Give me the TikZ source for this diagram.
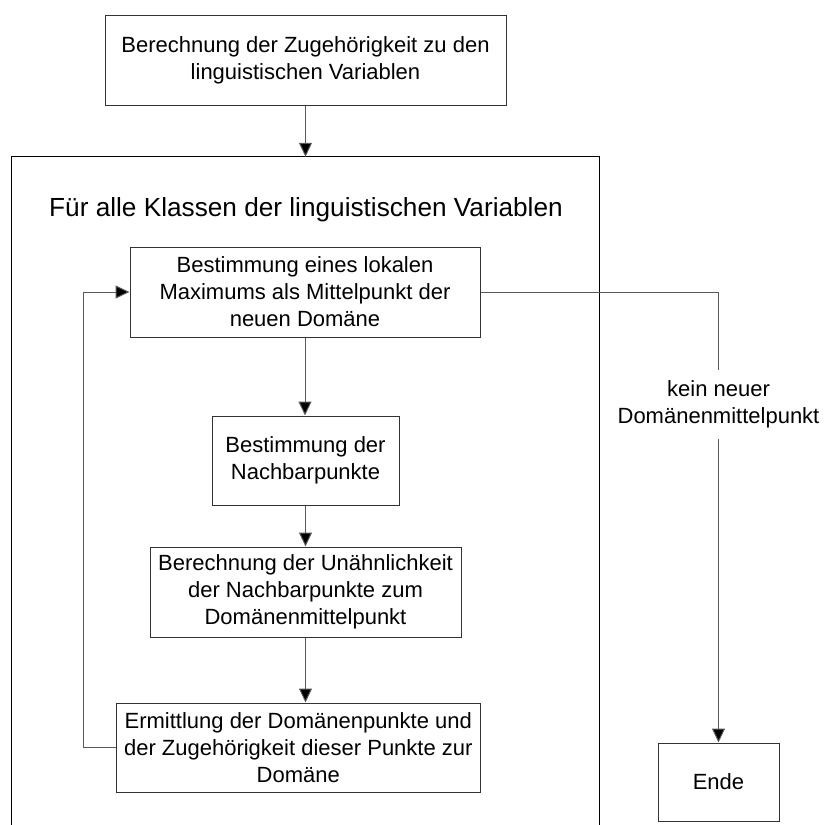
\documentclass[tikz,border=0pt]{standalone}
\usepackage{fontspec}
\setmainfont{Liberation Sans}
\usetikzlibrary{arrows.meta}

\tikzset{
  stepbox/.style={draw=black!80, line width=1pt, align=center, inner sep=0pt,
    font=\fontsize{22}{27}\selectfont},
  flow/.style={draw=black!65, line width=1pt, -{Triangle[length=14pt,width=13pt,fill=black]}},
  frame/.style={draw=black, line width=1pt},
}

\begin{document}
\begin{tikzpicture}[x=1pt, y=-1pt]
  \useasboundingbox (0,0) rectangle (823,825);

  % initial step
  \node[stepbox, minimum width=401pt, minimum height=90pt] (top) at (305.5,60)
    {Berechnung der Zugehörigkeit zu den\\linguistischen Variablen};

  % loop frame over all classes (open at the bottom)
  \node[minimum width=587pt, minimum height=668pt, inner sep=0pt] (cls) at (305.5,491) {};
  \draw[frame] (cls.south west) -- (cls.north west) -- (cls.north east) -- (cls.south east);
  \node[anchor=base, font=\fontsize{26.2}{30}\selectfont, inner sep=0pt] (title) at (306,216)
    {Für alle Klassen der linguistischen Variablen};

  % steps inside the loop
  \node[stepbox, minimum width=350pt, minimum height=90pt] (b1) at (305,292)
    {Bestimmung eines lokalen\\Maximums als Mittelpunkt der\\neuen Domäne};
  \node[stepbox, minimum width=187pt, minimum height=89pt] (b2) at (305.5,460.5)
    {Bestimmung der\\Nachbarpunkte};
  \node[stepbox, minimum width=311pt, minimum height=90pt] (b3) at (305.5,592)
    {Berechnung der Unähnlichkeit\\der Nachbarpunkte zum\\Domänenmittelpunkt};
  \node[stepbox, minimum width=364pt, minimum height=89pt] (b4) at (298.3,747.5)
    {Ermittlung der Domänenpunkte und\\der Zugehörigkeit dieser Punkte zur\\Domäne};

  % end
  \node[stepbox, minimum width=121pt, minimum height=78pt] (ende) at (718.5,782) {Ende};

  \coordinate (back) at (83,0);

  % connectors
  \draw[flow] (top) -- (top |- cls.north);
  \draw[flow] (b1) -- (b1 |- b2.north);
  \draw[flow] (b2) -- (b2 |- b3.north);
  \draw[flow] (b3) -- (b3 |- b4.north);
  \draw[flow] (b4.west) -- (back |- b4.west) -- (back |- b1.west) -- (b1.west);
  \draw[flow] (b1.east) -- (b1.east -| ende.north)
    -- node[pos=0.25, fill=white, align=center, inner xsep=2pt, inner ysep=11pt,
            font=\fontsize{22}{27}\selectfont] (lbl)
       {kein neuer\\Domänenmittelpunkt}
    (ende.north);
\end{tikzpicture}
\end{document}
